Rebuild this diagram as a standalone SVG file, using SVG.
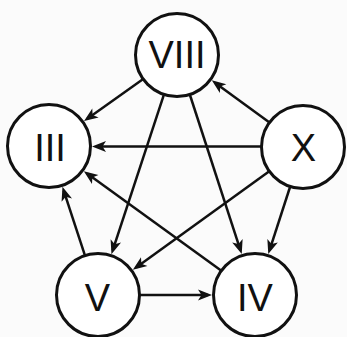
<svg xmlns="http://www.w3.org/2000/svg" width="347" height="337" viewBox="0 0 347 337">
  <style>
    .node circle { fill: #ffffff; stroke: #111; stroke-width: 3; }
    .node text { font-family: "Liberation Sans", Arial, sans-serif; font-size: 38px; fill: #111; text-anchor: middle; }
    .edges line { stroke: #111; stroke-width: 2.5; marker-end: url(#arrow); }
  </style>
  <defs>
    <marker id="arrow" markerUnits="userSpaceOnUse" markerWidth="16" markerHeight="14" refX="10" refY="5.5" orient="auto" overflow="visible">
      <path d="M0,0 L14,5.5 L0,11 L3.5,5.5 Z" fill="#111"/>
    </marker>
  </defs>
  <rect width="347" height="337" fill="#fbfbfb"/>
  <g class="edges" id="edges">
    <line x1="143.2" y1="79.1" x2="87.3" y2="118.7"/>
    <line x1="164.0" y1="94.4" x2="112.7" y2="250.4"/>
    <line x1="189.8" y1="94.5" x2="240.5" y2="250.3"/>
    <line x1="269.5" y1="122.5" x2="215.0" y2="82.7"/>
    <line x1="261.5" y1="146.5" x2="96" y2="146.5"/>
    <line x1="269.3" y1="171.3" x2="136.1" y2="267.5"/>
    <line x1="290.2" y1="186.5" x2="269.5" y2="250.3"/>
    <line x1="85.0" y1="255.6" x2="63.7" y2="190.6"/>
    <line x1="221.4" y1="270.7" x2="87.1" y2="173.6"/>
    <line x1="139.5" y1="295" x2="208" y2="295"/>
  </g>
  <g class="node" id="node-VIII"><circle cx="177" cy="55" r="41.5"/><text x="177" y="68">VIII</text></g>
  <g class="node" id="node-III"><circle cx="49" cy="146" r="41.5"/><text x="50" y="161">III</text></g>
  <g class="node" id="node-X"><circle cx="303" cy="147" r="41.5"/><text x="303.5" y="161">X</text></g>
  <g class="node" id="node-V"><circle cx="98" cy="295" r="41.5"/><text x="97.5" y="311">V</text></g>
  <g class="node" id="node-IV"><circle cx="255" cy="295" r="41.5"/><text x="255" y="311">IV</text></g>
</svg>
